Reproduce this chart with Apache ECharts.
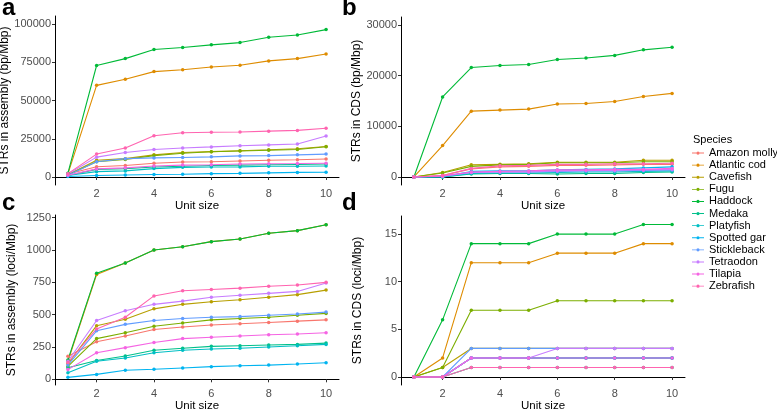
<!DOCTYPE html>
<html>
<head>
<meta charset="utf-8">
<script src="https://cdn.jsdelivr.net/npm/echarts@6/dist/echarts.min.js"></script>
<style>html,body{margin:0;padding:0;background:#fff;}#c{width:777px;height:409px;}</style>
</head>
<body>
<div id="c"></div>
<script>
const species = ['Amazon molly','Atlantic cod','Cavefish','Fugu','Haddock','Medaka','Platyfish','Spotted gar','Stickleback','Tetraodon','Tilapia','Zebrafish'];
const colors = ['#F8766D','#DE8C00','#B79F00','#7CAE00','#00BA38','#00C08B','#00BFC4','#00B4F0','#619CFF','#C77CFF','#F564E3','#FF64B0'];
const unitSizes = [1,2,3,4,5,6,7,8,9,10];
const xTicks = [2,4,6,8,10];

// Panel a: STRs in assembly (bp/Mbp), one row per species
const assemblyBp = [
  [2000, 6700, 7500, 9000, 9800, 10000, 10500, 11000, 11300, 11800],
  [2000, 60000, 64000, 69000, 70200, 72000, 73200, 76000, 77500, 80500],
  [1500, 11000, 12000, 14500, 16000, 16600, 17200, 17800, 18500, 20000],
  [1500, 10000, 11500, 14000, 15500, 16500, 17000, 17500, 18000, 19800],
  [2500, 73000, 77500, 83500, 84800, 86500, 88000, 91500, 93000, 96500],
  [1000, 5000, 5500, 6500, 7000, 7500, 7800, 8000, 8200, 8500],
  [1000, 3500, 4000, 5500, 6300, 6500, 6600, 7000, 7000, 7200],
  [300, 1000, 1300, 1600, 1800, 2200, 2400, 2700, 3000, 3100],
  [1200, 10000, 12000, 12500, 12800, 13200, 13800, 14000, 14500, 15000],
  [2000, 13000, 16000, 18000, 19000, 19700, 20500, 21000, 21600, 26900],
  [1200, 5300, 6000, 7200, 7800, 8000, 8500, 8700, 8800, 9000],
  [2200, 15000, 19000, 27000, 29000, 29300, 29500, 30000, 30500, 31900]
];
const assemblyBpTicks = [0, 25000, 50000, 75000, 100000];

// Panel b: STRs in CDS (bp/Mbp)
const cdsBp = [
  [0, 300, 1600, 2000, 2100, 2300, 2300, 2400, 2500, 2500],
  [0, 6200, 13000, 13200, 13400, 14400, 14500, 14900, 15900, 16500],
  [0, 900, 2400, 2500, 2600, 2900, 2900, 2900, 3300, 3300],
  [0, 800, 2100, 2400, 2500, 2800, 2800, 2800, 3000, 3000],
  [0, 15800, 21600, 22000, 22200, 23200, 23500, 24000, 25100, 25600],
  [0, 0, 600, 700, 700, 600, 700, 700, 900, 1000],
  [0, 0, 700, 800, 800, 900, 1000, 1000, 1100, 1200],
  [0, 100, 1100, 1200, 1200, 1400, 1500, 1600, 1800, 2000],
  [0, 100, 900, 1000, 1000, 1100, 1200, 1200, 1300, 1400],
  [0, 200, 900, 1000, 1000, 1200, 1300, 1300, 1400, 1500],
  [0, 200, 1000, 1100, 1200, 1400, 1400, 1500, 1500, 1700],
  [0, 300, 1700, 2200, 2300, 2500, 2500, 2600, 2600, 2700]
];
const cdsBpTicks = [0, 10000, 20000, 30000];

// Panel c: STRs in assembly (loci/Mbp)
const assemblyLoci = [
  [178, 290, 335, 385, 405, 420, 430, 440, 450, 460],
  [140, 810, 900, 1000, 1025, 1065, 1085, 1130, 1150, 1195],
  [120, 415, 465, 545, 580, 600, 615, 635, 655, 690],
  [100, 315, 360, 410, 435, 460, 470, 480, 495, 510],
  [150, 820, 900, 1000, 1025, 1065, 1085, 1130, 1150, 1195],
  [90, 145, 180, 225, 240, 255, 260, 265, 270, 280],
  [50, 140, 165, 205, 225, 235, 240, 250, 260, 270],
  [15, 38, 70, 78, 88, 98, 105, 110, 118, 128],
  [110, 375, 425, 455, 470, 480, 485, 495, 505, 520],
  [140, 455, 530, 580, 605, 635, 650, 665, 680, 745],
  [75, 205, 245, 285, 315, 325, 335, 345, 350, 360],
  [130, 390, 480, 645, 685, 695, 705, 720, 730, 750]
];
const assemblyLociTicks = [0, 250, 500, 750, 1000, 1250];

// Panel d: STRs in CDS (loci/Mbp)
const cdsLoci = [
  [0, 0, 2, 2, 2, 2, 2, 2, 2, 2],
  [0, 2, 12, 12, 12, 13, 13, 13, 14, 14],
  [0, 1, 3, 3, 3, 3, 3, 3, 3, 3],
  [0, 1, 7, 7, 7, 8, 8, 8, 8, 8],
  [0, 6, 14, 14, 14, 15, 15, 15, 16, 16],
  [0, 0, 1, 1, 1, 1, 1, 1, 1, 1],
  [0, 0, 2, 2, 2, 2, 2, 2, 2, 2],
  [0, 0, 2, 2, 2, 2, 2, 2, 2, 2],
  [0, 0, 3, 3, 3, 3, 3, 3, 3, 3],
  [0, 0, 2, 2, 2, 3, 3, 3, 3, 3],
  [0, 0, 2, 2, 2, 2, 2, 2, 2, 2],
  [0, 0, 1, 1, 1, 1, 1, 1, 1, 1]
];
const cdsLociTicks = [0, 5, 10, 15];

const panels = [
  {data: assemblyBp, ticks: assemblyBpTicks, min: -5240, max: 105400, title: 'STRs in assembly (bp/Mbp)', grid: {left: 55, top: 16, width: 284, height: 169}, letter: 'a', lx: 2, ly: -4},
  {data: cdsBp, ticks: cdsBpTicks, min: -1580, max: 31580, title: 'STRs in CDS (bp/Mbp)', grid: {left: 401, top: 17, width: 284, height: 168}, letter: 'b', lx: 342, ly: -4},
  {data: assemblyLoci, ticks: assemblyLociTicks, min: -44, max: 1271, title: 'STRs in assembly (loci/Mbp)', grid: {left: 55, top: 215, width: 284, height: 170}, letter: 'c', lx: 2, ly: 191},
  {data: cdsLoci, ticks: cdsLociTicks, min: -0.84, max: 16.9, title: 'STRs in CDS (loci/Mbp)', grid: {left: 401, top: 216, width: 284, height: 169}, letter: 'd', lx: 342, ly: 191}
];

const legendIcon = 'path://M0,8L9.6,8L9.6,10L0,10Z M16.4,8L26,8L26,10L16.4,10Z M9.5,9A3.5,3.5 0 1 0 16.5,9A3.5,3.5 0 1 0 9.5,9Z';

const grids = [], xAxes = [], yAxes = [], series = [], graphics = [];
panels.forEach((p, i) => {
  grids.push(Object.assign({containLabel: false, outerBoundsMode: 'none'}, p.grid));
  xAxes.push({
    type: 'value', gridIndex: i, min: 0.55, max: 10.45,
    name: 'Unit size', nameLocation: 'middle', nameGap: 13,
    nameTextStyle: {color: '#000', fontSize: 11.5, fontFamily: 'Liberation Sans'},
    axisLine: {show: true, lineStyle: {color: '#000', width: 1}},
    axisTick: {show: true, length: 3, lineStyle: {color: '#333'}, customValues: xTicks},
    axisLabel: {color: '#4D4D4D', fontSize: 11, margin: 3, fontFamily: 'Liberation Sans', customValues: xTicks},
    splitLine: {show: false}
  });
  yAxes.push({
    type: 'value', gridIndex: i, min: p.min, max: p.max,
    name: p.title, nameLocation: 'middle', nameRotate: 90, nameGap: 37,
    nameTextStyle: {color: '#000', fontSize: 12, fontFamily: 'Liberation Sans'},
    axisLine: {show: true, lineStyle: {color: '#000', width: 1}},
    axisTick: {show: true, length: 3, lineStyle: {color: '#333'}, customValues: p.ticks},
    axisLabel: {color: '#4D4D4D', fontSize: 11, margin: 4, fontFamily: 'Liberation Sans', customValues: p.ticks, formatter: v => String(v)},
    splitLine: {show: false}
  });
  species.forEach((s, k) => {
    series.push({
      name: s, type: 'line', xAxisIndex: i, yAxisIndex: i,
      data: unitSizes.map((u, j) => [u, p.data[k][j]]),
      symbol: 'circle', symbolSize: 3.5, showSymbol: true,
      lineStyle: {width: 1.1, color: colors[k]},
      itemStyle: {color: colors[k]},
      emphasis: {disabled: true}, animation: false
    });
  });
  graphics.push({type: 'text', left: p.lx, top: p.ly, style: {text: p.letter, fontSize: 24, fontWeight: 'bold', fill: '#000', fontFamily: 'Liberation Sans'}});
});
graphics.push({type: 'text', left: 693, top: 134, style: {text: 'Species', fontSize: 11, fill: '#000', fontFamily: 'Liberation Sans'}});

const chart = echarts.init(document.getElementById('c'), null, {renderer: 'canvas'});
chart.setOption({
  animation: false,
  color: colors,
  grid: grids, xAxis: xAxes, yAxis: yAxes, series: series,
  graphic: graphics,
  legend: {
    data: species.map(s => ({name: s, icon: legendIcon})),
    orient: 'vertical', left: 692, top: 147,
    itemWidth: 12, itemHeight: 9, itemGap: 0, padding: 0,
    textStyle: {fontSize: 11, color: '#000', fontFamily: 'Liberation Sans', lineHeight: 12.1},
    selectedMode: false
  }
});
</script>
</body>
</html>
